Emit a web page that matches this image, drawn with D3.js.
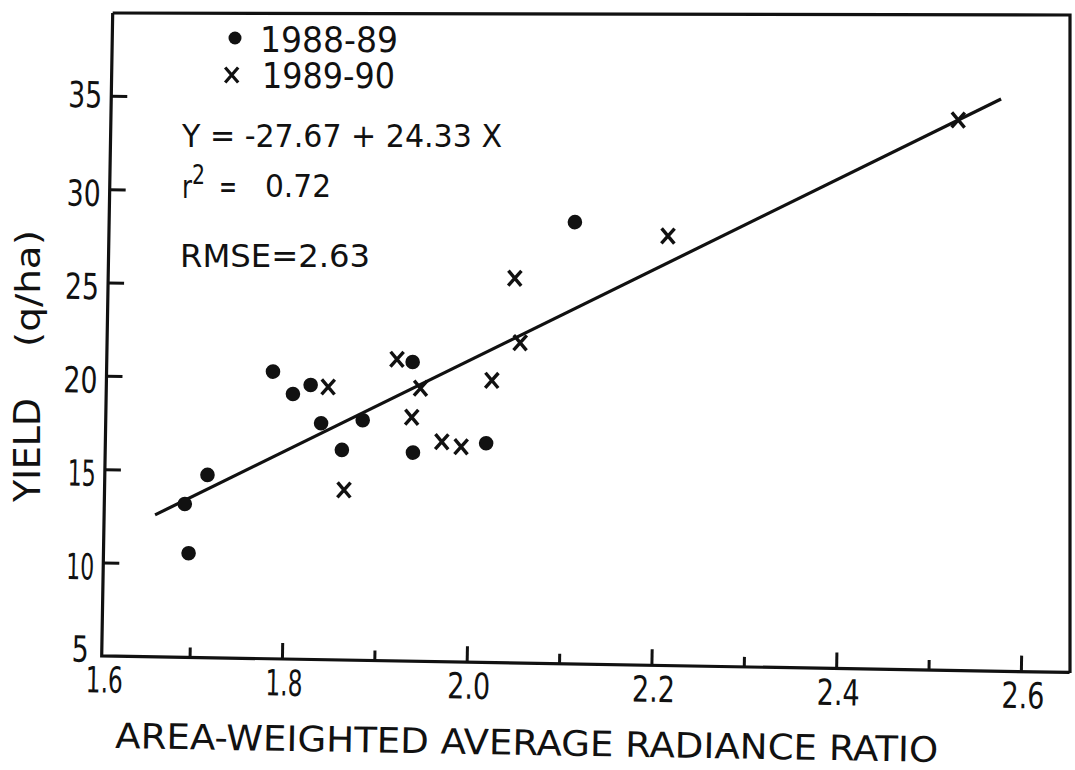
<!DOCTYPE html>
<html>
<head>
<meta charset="utf-8">
<script src="https://cdn.jsdelivr.net/npm/d3@7"></script>
<style>
  html, body { margin: 0; padding: 0; background: #fff; }
  svg { display: block; }
  text { font-family: "Liberation Sans Narrow", "DejaVu Sans Condensed", "Liberation Sans", Arial, sans-serif; fill: #111; }
</style>
</head>
<body>
<svg id="chart" width="1075" height="770"></svg>
<script>
// ---------------- data ----------------
const series1988X = [1.692, 1.697, 1.716, 1.785, 1.807, 1.826, 1.838, 1.861, 1.883, 1.936, 1.938, 2.017, 2.109];
const series1988Y = [13.21, 10.58, 14.79, 20.38, 19.20, 19.70, 17.66, 16.25, 17.86, 21.02, 16.17, 16.74, 28.66];

const series1989X = [1.845, 1.919, 1.945, 1.936, 1.864, 1.969, 1.990, 2.022, 2.052, 2.045, 2.210, 2.522];
const series1989Y = [19.61, 21.15, 19.62, 18.06, 14.11, 16.78, 16.53, 20.11, 22.15, 25.60, 28.00, 34.48];

const fitLineX = [1.660, 2.568];
const fitLineY = [12.60, 35.64];

const xLabelTicks = [1.6, 1.8, 2.0, 2.2, 2.4, 2.6];
const xMajorTicks = [1.8, 2.0, 2.2, 2.4, 2.6];
const xMinorTicks = [1.7, 1.9, 2.1, 2.3, 2.5];
const yTicks = [10, 15, 20, 25, 30, 35];
const yLabelTicks = [5, 10, 15, 20, 25, 30, 35];

const legendLabels = ["1988-89", "1989-90"];
const xTitle = "AREA-WEIGHTED AVERAGE RADIANCE RATIO";
const yTitleParts = ["YIELD", "(q/ha)"];
const equationText = "Y = -27.67 + 24.33 X";
const r2Value = "0.72";
const rmseText = "RMSE=2.63";

// ---------------- layout ----------------
const svg = d3.select("#chart");
const W = 968, H = 643;

// scanned figure: left and bottom axes are slightly rotated
const g = svg.append("g").attr("transform", "translate(112.7,13) rotate(0.98)");

const x = d3.scaleLinear().domain([1.6, 2.6]).range([-4.5, 919.3]);
const y = d3.scaleLinear().domain([5, 35]).range([643, 82.8]);

function labelWidth(s) {
  let w = 0;
  for (const c of s) w += (c === "1") ? 11 : (c === ".") ? 9 : 17;
  return w;
}

// left + bottom axis lines (rotated frame)
g.append("path")
  .attr("d", `M0,0V${H}H${W}`)
  .attr("fill", "none").attr("stroke", "#111").attr("stroke-width", 3.2)
  .attr("stroke-linejoin", "miter");

// top + right border (flat in the scan)
svg.append("path")
  .attr("d", "M112.7,13L1070,15L1070,673")
  .attr("fill", "none").attr("stroke", "#111").attr("stroke-width", 3.2);

// x ticks
const xMajor = g.append("g").attr("transform", `translate(0,${H})`)
  .call(d3.axisBottom(x).tickValues(xMajorTicks).tickSize(-16).tickFormat(""));
const xMinor = g.append("g").attr("transform", `translate(0,${H})`)
  .call(d3.axisBottom(x).tickValues(xMinorTicks).tickSize(-10).tickFormat(""));
[xMajor, xMinor].forEach(a => {
  a.select(".domain").remove();
  a.selectAll(".tick line").attr("stroke", "#111").attr("stroke-width", 3);
});

const xLab = g.append("g").attr("transform", `translate(0,${H})`)
  .call(d3.axisBottom(x).tickValues(xLabelTicks).tickSize(0).tickPadding(11).tickFormat(d3.format(".1f")));
xLab.select(".domain").remove();
xLab.attr("font-family", null).attr("font-size", null);
xLab.selectAll(".tick text")
  .attr("font-size", 36)
  .attr("fill", "#111")
  .attr("dx", d => d === 1.6 ? 7 : 2)
  .attr("textLength", function() { return labelWidth(this.textContent); })
  .attr("lengthAdjust", "spacingAndGlyphs");

// y ticks
const yT = g.append("g")
  .call(d3.axisLeft(y).tickValues(yTicks).tickSize(-16).tickFormat(""));
yT.select(".domain").remove();
yT.selectAll(".tick line").attr("stroke", "#111").attr("stroke-width", 3);

const yLab = g.append("g")
  .call(d3.axisLeft(y).tickValues(yLabelTicks).tickSize(0).tickPadding(9).tickFormat(d3.format("d")));
yLab.select(".domain").remove();
yLab.attr("font-family", null).attr("font-size", null);
yLab.selectAll(".tick text")
  .attr("font-size", 36)
  .attr("fill", "#111")
  .attr("y", d => d === 5 ? -6 : (d === 35 ? 0 : 5))
  .attr("x", d => d === 5 ? -13 : -9)
  .attr("textLength", function() { return labelWidth(this.textContent); })
  .attr("lengthAdjust", "spacingAndGlyphs");

// regression line
g.append("path")
  .datum(d3.zip(fitLineX, fitLineY))
  .attr("d", d3.line().x(d => x(d[0])).y(d => y(d[1])))
  .attr("fill", "none").attr("stroke", "#111").attr("stroke-width", 3.2);

// 1988-89 dots
g.append("g").selectAll("circle")
  .data(d3.zip(series1988X, series1988Y))
  .join("circle")
  .attr("cx", d => x(d[0])).attr("cy", d => y(d[1]))
  .attr("r", 7.3).attr("fill", "#111");

// 1989-90 crosses
const crossPath = "M-6.5,-7.5L6.5,7.5M-6.5,7.5L6.5,-7.5";
g.append("g").selectAll("path")
  .data(d3.zip(series1989X, series1989Y))
  .join("path")
  .attr("transform", d => `translate(${x(d[0])},${y(d[1])})`)
  .attr("d", crossPath)
  .attr("fill", "none").attr("stroke", "#111").attr("stroke-width", 3.4);

// ---------------- legend & annotations ----------------
svg.append("circle").attr("cx", 235).attr("cy", 38).attr("r", 6.5).attr("fill", "#111");
svg.append("path").attr("transform", "translate(231.7,75)").attr("d", crossPath)
  .attr("fill", "none").attr("stroke", "#111").attr("stroke-width", 3.2);

svg.append("text").attr("x", 260).attr("y", 52).attr("font-size", 35)
  .attr("textLength", 138).attr("lengthAdjust", "spacingAndGlyphs").text(legendLabels[0]);
svg.append("text").attr("x", 262).attr("y", 88).attr("font-size", 35)
  .attr("textLength", 133).attr("lengthAdjust", "spacingAndGlyphs").text(legendLabels[1]);

svg.append("text").attr("x", 182).attr("y", 147).attr("font-size", 32)
  .attr("textLength", 320).attr("lengthAdjust", "spacingAndGlyphs").text(equationText);

svg.append("text").attr("x", 182).attr("y", 198).attr("font-size", 32)
  .attr("textLength", 10).attr("lengthAdjust", "spacingAndGlyphs").text("r");
svg.append("text").attr("x", 192).attr("y", 184).attr("font-size", 27)
  .attr("textLength", 13).attr("lengthAdjust", "spacingAndGlyphs").text("2");
svg.append("text").attr("x", 219).attr("y", 198).attr("font-size", 32)
  .attr("textLength", 18).attr("lengthAdjust", "spacingAndGlyphs").text("=");
svg.append("text").attr("x", 265).attr("y", 197).attr("font-size", 32)
  .attr("textLength", 66).attr("lengthAdjust", "spacingAndGlyphs").text(r2Value);

svg.append("text").attr("x", 180).attr("y", 267).attr("font-size", 32)
  .attr("textLength", 190).attr("lengthAdjust", "spacingAndGlyphs").text(rmseText);

// axis titles
svg.append("text").attr("transform", "translate(115,748) rotate(0.97)")
  .attr("font-size", 35).attr("textLength", 823).attr("lengthAdjust", "spacingAndGlyphs")
  .text(xTitle);

svg.append("text").attr("transform", "translate(40,502) rotate(-90)")
  .attr("font-size", 38).attr("textLength", 104).attr("lengthAdjust", "spacingAndGlyphs")
  .text(yTitleParts[0]);
svg.append("text").attr("transform", "translate(40,347) rotate(-90)")
  .attr("font-size", 34).attr("textLength", 117).attr("lengthAdjust", "spacingAndGlyphs")
  .text(yTitleParts[1]);
</script>
</body>
</html>
